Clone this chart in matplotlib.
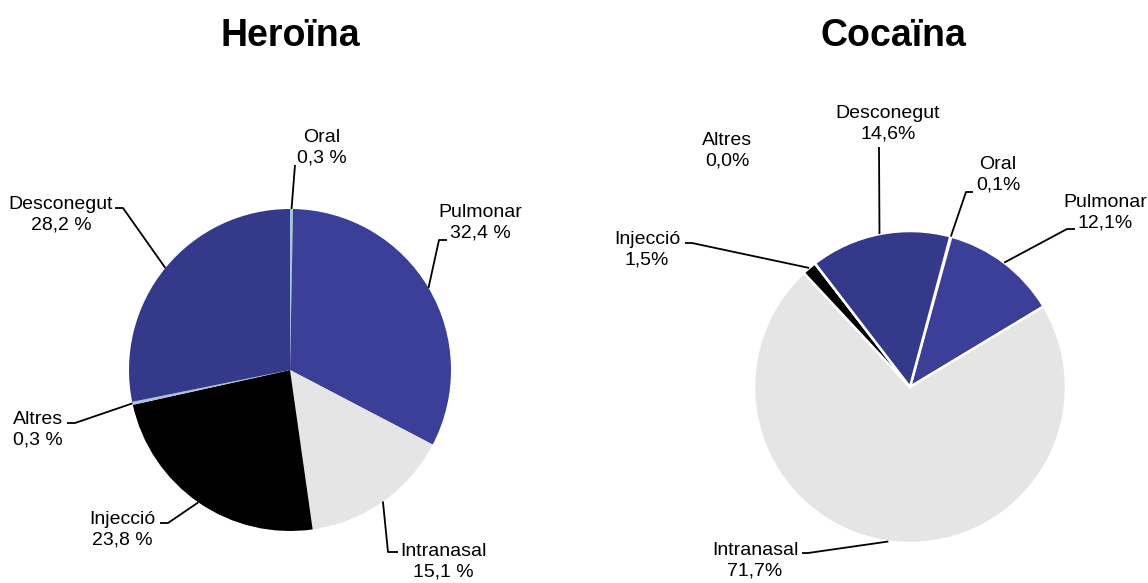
import numpy as np
import matplotlib
matplotlib.use("Agg")
import matplotlib.pyplot as plt

plt.rcParams['font.family'] = ['Liberation Sans', 'DejaVu Sans']

# dades
categories = ["Oral", "Pulmonar", "Intranasal", "Injecció", "Altres", "Desconegut"]
heroina = [0.3, 32.4, 15.1, 23.8, 0.3, 28.2]
cocaina = [0.1, 12.1, 71.7, 1.5, 0.0, 14.6]
heroina_labels = ["0,3 %", "32,4 %", "15,1 %", "23,8 %", "0,3 %", "28,2 %"]
cocaina_labels = ["0,1%", "12,1%", "71,7%", "1,5%", "0,0%", "14,6%"]

colors = ["#a9c3df", "#3b3f97", "#e5e5e5", "#000000", "#a9c3df", "#35398a"]

W, H = 1148, 583
fig = plt.figure(figsize=(W / 100, H / 100), dpi=100)
ax = fig.add_axes([0, 0, 1, 1])


def py(y):
    # pixel (y cap avall) -> dades (y cap amunt)
    return H - y


# posicio de les etiquetes (pixels): centre del text i punts de la linia guia
heroina_layout = [
    ((322, 148), [(295, 165)]),
    ((480, 223), [(439, 240), (447, 240)]),
    ((443, 562), [(388, 552), (398, 552)]),
    ((122, 530), [(168, 523), (160, 523)]),
    ((38, 430), [(75, 423), (67, 423)]),
    ((61, 215), [(123, 208), (115, 208)]),
]
cocaina_layout = [
    ((998, 175), [(966, 192), (973, 192)]),
    ((1105, 213), [(1067, 229), (1075, 229)]),
    ((755, 561), [(808, 553), (802, 553)]),
    ((647, 250), [(692, 243), (685, 243)]),
    ((727, 151), []),
    ((888, 124), [(879, 147)]),
]


def draw_pie(values, labels, layout, center, radius, start, edge, title, tx):
    cx, cy = center
    ax.pie(values, colors=colors, startangle=start, counterclock=False,
           center=(cx, py(cy)), radius=radius, frame=True,
           wedgeprops=dict(linewidth=edge, edgecolor="white"))
    total = sum(values)
    acc = 0
    for v, cat, lab, (txt_pos, pts) in zip(values, categories, labels, layout):
        mid = np.deg2rad(start - 360 * (acc + v / 2) / total)
        acc += v
        ax.text(txt_pos[0], py(txt_pos[1]), cat + "\n" + lab, ha="center", va="center",
                fontsize=14, linespacing=1.27, color="black")
        if pts:
            xs = [cx + radius * np.cos(mid)] + [p[0] for p in pts]
            ys = [py(cy) + radius * np.sin(mid)] + [py(p[1]) for p in pts]
            ax.plot(xs, ys, color="black", lw=1.3, solid_capstyle="butt")
    ax.text(tx, py(46), title, ha="center", va="baseline", fontsize=27, fontweight="bold")


draw_pie(heroina, heroina_labels, heroina_layout, (290, 370), 161, 90, 0, "Heroïna", 290)
draw_pie(cocaina, cocaina_labels, cocaina_layout, (910, 387), 156, 75, 1.8, "Cocaïna", 893)

ax.set_xlim(0, W)
ax.set_ylim(0, H)
ax.set_aspect("auto")
ax.axis("off")

fig.savefig("out.png", dpi=100)
